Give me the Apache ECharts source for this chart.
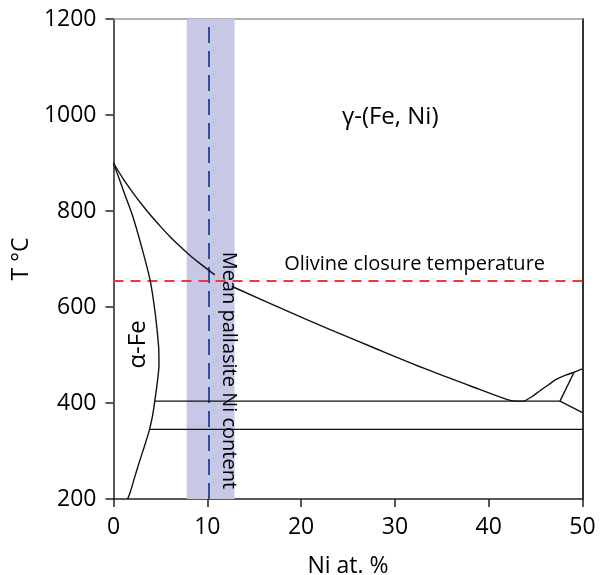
<!DOCTYPE html>
<html>
<head>
<meta charset="utf-8">
<script src="https://cdn.jsdelivr.net/npm/echarts@6/dist/echarts.min.js"></script>
<style>
  html, body {margin: 0; padding: 0; background: #fff;}
  #chart {width: 600px; height: 575px;}
</style>
</head>
<body>
<div id="chart"></div>
<script>
// Fe-Ni phase diagram, low temperature part
// gamma / (alpha + gamma) boundary, split where the vertical label sits
const gammaUpper = [[0, 900], [1, 868], [2, 840], [3, 814], [4, 790], [5, 768], [6, 747], [7, 728], [8, 710], [9, 694], [10, 679], [10.8, 667]]
const gammaLower = [[12.6, 643], [13.3, 637], [18, 596], [23.1, 553], [28, 513], [33.4, 470], [38, 436], [42, 407], [42.8, 404], [43.8, 404]]
// alpha / (alpha + gamma) boundary
const alphaEdge = [[0, 900], [1.1, 840], [2.1, 786], [3.1, 718], [3.9, 656], [4.4, 594], [4.8, 520], [4.85, 480], [4.65, 440], [4.4, 404], [4.15, 372], [3.8, 342], [3.3, 310], [2.8, 280], [2.25, 245], [1.75, 212], [1.5, 200]]
// right-hand corner features
const rightRise = [[43.8, 404], [44.6, 413], [45.5, 426], [46.3, 437], [47.2, 449], [48.2, 458], [49.1, 464], [50, 471]]
const rightSteep = [[47.6, 404], [49.1, 464]]
const rightDrop = [[47.6, 404], [50, 380]]
// horizontal reaction lines
const line400 = [[4.4, 404], [47.6, 404]]
const line345 = [[3.8, 345], [50, 345]]

const niBand = [7.8, 12.9]
const niMean = 10.2
const olivineT = 655

const notes = [
  {name: 'γ-(Fe, Ni)', value: [29.5, 996], rotate: 0, size: 24},
  {name: 'Olivine closure temperature', value: [32.1, 688], rotate: 0, size: 20},
  {name: 'Mean pallasite Ni content', value: [12.25, 468], rotate: -90, size: 20},
  {name: 'α-Fe', value: [2.6, 522], rotate: 90, size: 24}
]

const font = '"Open Sans", "Noto Sans", sans-serif'
const chart = echarts.init(document.getElementById('chart'))

const curve = (data) => ({
  type: 'line',
  data: data,
  showSymbol: false,
  symbol: 'none',
  smooth: 0.3,
  smoothMonotone: null,
  lineStyle: {color: '#111', width: 1.4},
  z: 5,
  silent: true
})

chart.setOption({
  animation: false,
  grid: {left: 113.5, right: 17.5, top: 19, bottom: 76, outerBoundsMode: 'none', containLabel: false},
  xAxis: [{
    type: 'value', min: 0, max: 50, interval: 10,
    name: 'Ni at. %', nameLocation: 'middle', nameGap: 56,
    nameTextStyle: {fontSize: 23, color: '#000', fontFamily: font},
    axisLine: {onZero: false, lineStyle: {color: '#222', width: 1.5}},
    axisTick: {inside: false, length: 8, lineStyle: {color: '#222', width: 1.5}},
    axisLabel: {fontSize: 23, color: '#000', fontFamily: font, margin: 17},
    splitLine: {show: false}
  }, {
    type: 'value', position: 'top', min: 0, max: 50,
    axisLine: {show: true, onZero: false, lineStyle: {color: '#999', width: 1.5}},
    axisTick: {show: false}, axisLabel: {show: false}, splitLine: {show: false}
  }],
  yAxis: [{
    type: 'value', min: 200, max: 1200, interval: 200,
    name: 'T °C', nameLocation: 'middle', nameGap: 67,
    nameTextStyle: {fontSize: 23, color: '#000', fontFamily: font},
    axisLine: {show: true, onZero: false, lineStyle: {color: '#222', width: 1.5}},
    axisTick: {show: true, inside: false, length: 8, lineStyle: {color: '#222', width: 1.5}},
    axisLabel: {fontSize: 23, color: '#000', fontFamily: font, margin: 17, formatter: v => String(v)},
    splitLine: {show: false}
  }, {
    type: 'value', position: 'right', min: 200, max: 1200,
    axisLine: {show: true, onZero: false, lineStyle: {color: '#333', width: 2}},
    axisTick: {show: false}, axisLabel: {show: false}, splitLine: {show: false}
  }],
  series: [
    {
      type: 'line', data: [], silent: true,
      markArea: {
        silent: true,
        itemStyle: {color: '#c6c8e6'},
        data: [[{xAxis: niBand[0], yAxis: 200}, {xAxis: niBand[1], yAxis: 1200}]]
      },
      markLine: {
        silent: true, symbol: 'none', label: {show: false},
        data: [
          {xAxis: niMean, lineStyle: {color: '#2f4fa5', width: 2, type: [16, 8]}},
          {yAxis: olivineT, lineStyle: {color: '#ee3b33', width: 2, type: [10, 7]}}
        ]
      },
      z: 1
    },
    curve(gammaUpper),
    curve(gammaLower),
    curve(alphaEdge),
    curve(rightRise),
    curve(rightSteep),
    curve(rightDrop),
    curve(line400),
    curve(line345),
    {
      type: 'scatter',
      symbolSize: 0,
      silent: true,
      z: 10,
      data: notes.map(n => ({
        name: n.name,
        value: n.value,
        label: {
          show: true, position: 'inside', formatter: '{b}',
          rotate: n.rotate, fontSize: n.size, color: '#000', fontFamily: font,
          textBorderWidth: 0, opacity: 1
        }
      }))
    }
  ]
})
</script>
</body>
</html>
